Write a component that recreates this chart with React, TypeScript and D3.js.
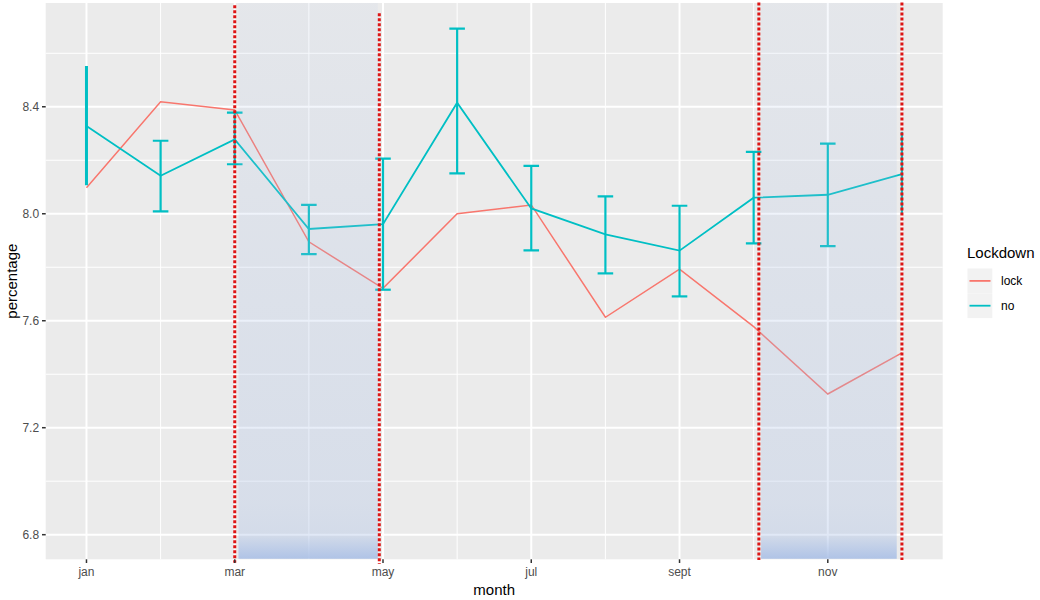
import React from "react";
import * as d3 from "d3";

const months = ["jan", "feb", "mar", "apr", "may", "jun", "jul", "aug", "sept", "oct", "nov", "dec"];
const monthNums = [1, 2, 3, 4, 5, 6, 7, 8, 9, 10, 11, 12];
const xMajorTicks = [1, 3, 5, 7, 9, 11];
const xMinorTicks = [2, 4, 6, 8, 10, 12];
const yMajorTicks = [6.8, 7.2, 7.6, 8.0, 8.4];
const yMinorTicks = [7.0, 7.4, 7.8, 8.2, 8.6];

const lockValues = [8.097, 8.419, 8.388, 7.895, 7.721, 8.0, 8.033, 7.613, 7.793, 7.578, 7.326, 7.48];
const noValues = [8.328, 8.142, 8.278, 7.943, 7.961, 8.415, 8.02, 7.923, 7.862, 8.06, 8.071, 8.148];
const noLower = [8.107, 8.009, 8.185, 7.849, 7.716, 8.151, 7.863, 7.777, 7.691, 7.889, 7.879, 7.995];
const noUpper = [8.552, 8.273, 8.378, 8.033, 8.206, 8.692, 8.179, 8.065, 8.03, 8.231, 8.262, 8.307];

const vlineX = [3, 4.95, 10.07, 12];
const vlineTop = [8.78, 8.75, 8.79, 8.79];
const vlineBottom = [6.695, 6.69, 6.705, 6.705];
const shadeStart = [3.05, 10.1];
const shadeEnd = [4.93, 11.93];
const shadeBottom = 6.71;

const seriesNames = ["lock", "no"];
const seriesColors = ["#F8766D", "#00BFC4"];

const W = 1040;
const H = 600;
const panel = { left: 45.7, right: 942.7, top: 3, bottom: 559.3 };
const font = "'Liberation Sans', Arial, Helvetica, sans-serif";

export default function App() {
  const x = d3.scaleLinear().domain([0.45, 12.55]).range([panel.left, panel.right]);
  const y = d3.scaleLinear().domain([6.708, 8.788]).range([panel.bottom, panel.top]);

  const line = d3
    .line<number>()
    .x((_, i) => x(monthNums[i]))
    .y((d) => y(d));

  const capHalf = x(1.105) - x(1);

  return (
    <svg
      width={W}
      height={H}
      style={{ position: "absolute", left: 0, top: 0, background: "#fff" }}
      fontFamily={font}
    >
      <defs>
        <linearGradient id="shade" x1="0" y1="0" x2="0" y2="1">
          <stop offset="0" stopColor="#a9bfe6" stopOpacity={0.1} />
          <stop offset="0.5" stopColor="#a9bfe6" stopOpacity={0.22} />
          <stop offset="0.9" stopColor="#a9bfe6" stopOpacity={0.3} />
          <stop offset="0.957" stopColor="#a9bfe6" stopOpacity={0.36} />
          <stop offset="1" stopColor="#a9bfe6" stopOpacity={0.9} />
        </linearGradient>
        <clipPath id="panelClip">
          <rect x={panel.left} y={panel.top} width={panel.right - panel.left} height={panel.bottom - panel.top} />
        </clipPath>
      </defs>
      <rect x={panel.left} y={panel.top} width={panel.right - panel.left} height={panel.bottom - panel.top} fill="#EBEBEB" />
      {yMinorTicks.map((t) => (
        <line key={"ym" + t} x1={panel.left} x2={panel.right} y1={y(t)} y2={y(t)} stroke="#fff" strokeWidth={1} />
      ))}
      {xMinorTicks.map((t) => (
        <line key={"xm" + t} y1={panel.top} y2={panel.bottom} x1={x(t)} x2={x(t)} stroke="#fff" strokeWidth={1} />
      ))}
      {yMajorTicks.map((t) => (
        <line key={"yM" + t} x1={panel.left} x2={panel.right} y1={y(t)} y2={y(t)} stroke="#fff" strokeWidth={2} />
      ))}
      {xMajorTicks.map((t) => (
        <line key={"xM" + t} y1={panel.top} y2={panel.bottom} x1={x(t)} x2={x(t)} stroke="#fff" strokeWidth={2} />
      ))}

      <g clipPath="url(#panelClip)">
        <path d={line(lockValues) || ""} fill="none" stroke={seriesColors[0]} strokeWidth={1.5} />
        <path d={line(noValues) || ""} fill="none" stroke={seriesColors[1]} strokeWidth={1.8} />
        {monthNums.map((m, i) => {
          const cx = x(m);
          const edge = i === 0 || i === monthNums.length - 1;
          return (
            <g key={"eb" + m} stroke={seriesColors[1]}>
              <line x1={cx} x2={cx} y1={y(noUpper[i])} y2={y(noLower[i])} strokeWidth={i === 0 ? 3 : 2.2} />
              {!edge && (
                <>
                  <line x1={cx - capHalf} x2={cx + capHalf} y1={y(noUpper[i])} y2={y(noUpper[i])} strokeWidth={2.2} />
                  <line x1={cx - capHalf} x2={cx + capHalf} y1={y(noLower[i])} y2={y(noLower[i])} strokeWidth={2.2} />
                </>
              )}
            </g>
          );
        })}
        {shadeStart.map((s, i) => (
          <rect
            key={"sh" + i}
            x={x(s)}
            y={panel.top}
            width={x(shadeEnd[i]) - x(s)}
            height={y(shadeBottom) - panel.top}
            fill="url(#shade)"
          />
        ))}
      </g>
      {vlineX.map((v, i) => (
        <line
          key={"vl" + i}
          x1={x(v)}
          x2={x(v)}
          y1={y(vlineTop[i])}
          y2={y(vlineBottom[i])}
          stroke="#dd1515"
          strokeWidth={3}
          strokeDasharray="3 2"
        />
      ))}

      {yMajorTicks.map((t) => (
        <g key={"yt" + t}>
          <line x1={panel.left - 3.7} x2={panel.left} y1={y(t)} y2={y(t)} stroke="#333" strokeWidth={1.5} />
          <text x={panel.left - 6.6} y={y(t)} dy="0.35em" textAnchor="end" fontSize={12} fill="#4D4D4D">
            {t.toFixed(1)}
          </text>
        </g>
      ))}
      {xMajorTicks.map((t) => (
        <g key={"xt" + t}>
          <line x1={x(t)} x2={x(t)} y1={panel.bottom} y2={panel.bottom + 3.7} stroke="#333" strokeWidth={1.5} />
          <text x={x(t)} y={panel.bottom + 16.5} textAnchor="middle" fontSize={12} fill="#4D4D4D">
            {months[t - 1]}
          </text>
        </g>
      ))}
      <text x={(panel.left + panel.right) / 2} y={595} textAnchor="middle" fontSize={15} fill="#000">
        month
      </text>
      <text
        transform={`translate(17,${(panel.top + panel.bottom) / 2}) rotate(-90)`}
        textAnchor="middle"
        fontSize={15}
        fill="#000"
      >
        percentage
      </text>

      <text x={967} y={258} fontSize={15} fill="#000">
        Lockdown
      </text>
      {seriesNames.map((s, i) => {
        const ky = 268.5 + i * 24.8;
        return (
          <g key={"lg" + s}>
            <rect x={967.5} y={ky} width={24.8} height={24.8} fill="#F2F2F2" />
            <line x1={969.5} x2={990.5} y1={ky + 12.4} y2={ky + 12.4} stroke={seriesColors[i]} strokeWidth={1.8} />
            <text x={1001} y={ky + 12.4} dy="0.35em" fontSize={12} fill="#000">
              {s}
            </text>
          </g>
        );
      })}
    </svg>
  );
}
